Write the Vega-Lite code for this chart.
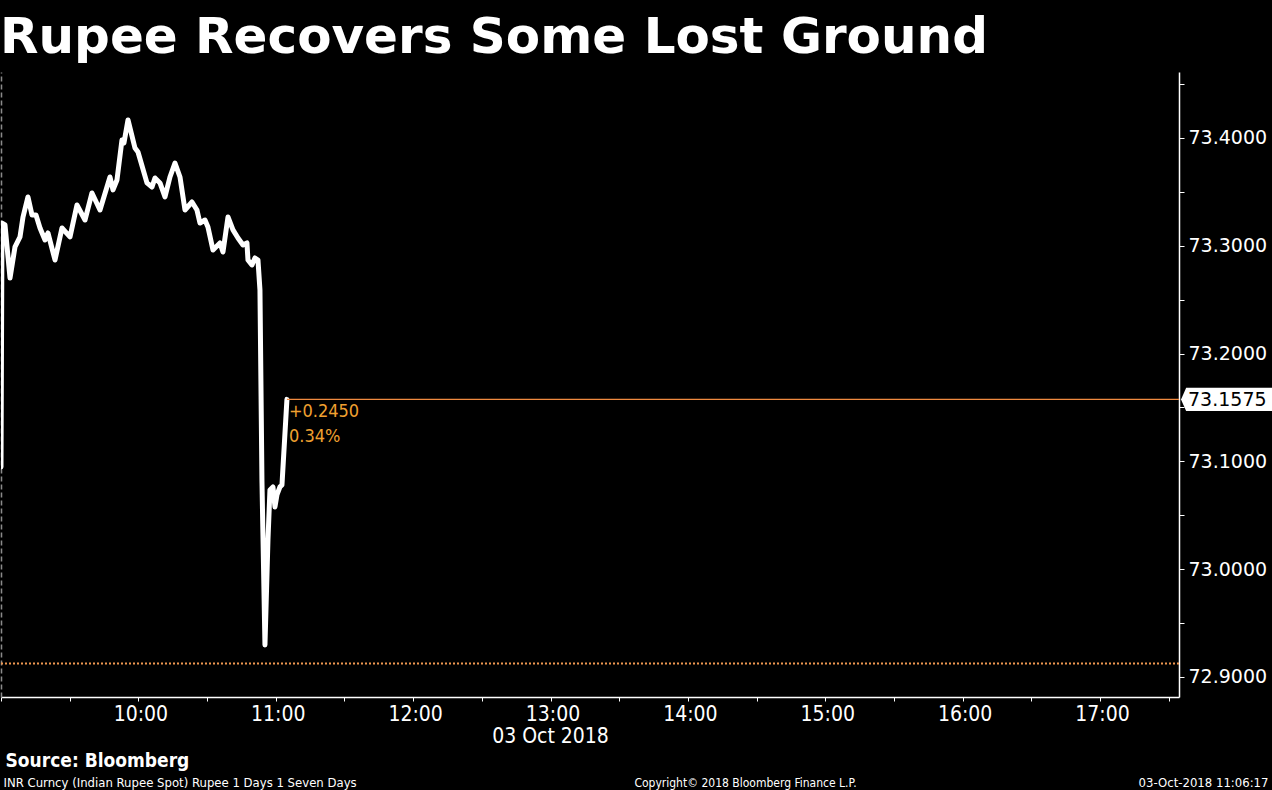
{
  "$schema": "https://vega.github.io/schema/vega-lite/v6.json",
  "background": "#000000",
  "width": 1178,
  "height": 625,
  "padding": {"left": 1, "top": 72, "right": 93, "bottom": 93},
  "autosize": {"type": "none"},
  "title": {
    "text": "Rupee Recovers Some Lost Ground",
    "anchor": "start",
    "font": "DejaVu Sans",
    "fontSize": 50,
    "fontWeight": "bold",
    "color": "#ffffff",
    "offset": 9
  },
  "config": {"view": {"stroke": null}, "axis": {"grid": false}},
  "resolve": {"axis": {"x": "independent", "y": "independent"}},
  "layer": [
    {
      "data": {
        "values": [
          {"t": "2018-10-03T09:00:00Z", "v": 73.0948},
          {"t": "2018-10-03T09:00:26Z", "v": 73.3211},
          {"t": "2018-10-03T09:01:45Z", "v": 73.3193},
          {"t": "2018-10-03T09:03:56Z", "v": 73.2701},
          {"t": "2018-10-03T09:06:07Z", "v": 73.2989},
          {"t": "2018-10-03T09:08:18Z", "v": 73.3082},
          {"t": "2018-10-03T09:09:37Z", "v": 73.3267},
          {"t": "2018-10-03T09:11:47Z", "v": 73.3453},
          {"t": "2018-10-03T09:13:32Z", "v": 73.3286},
          {"t": "2018-10-03T09:15:17Z", "v": 73.3286},
          {"t": "2018-10-03T09:17:02Z", "v": 73.3165},
          {"t": "2018-10-03T09:19:13Z", "v": 73.3054},
          {"t": "2018-10-03T09:20:31Z", "v": 73.3119},
          {"t": "2018-10-03T09:23:35Z", "v": 73.2868},
          {"t": "2018-10-03T09:26:38Z", "v": 73.3165},
          {"t": "2018-10-03T09:30:08Z", "v": 73.3082},
          {"t": "2018-10-03T09:33:11Z", "v": 73.3378},
          {"t": "2018-10-03T09:36:41Z", "v": 73.3239},
          {"t": "2018-10-03T09:39:44Z", "v": 73.349},
          {"t": "2018-10-03T09:43:14Z", "v": 73.3332},
          {"t": "2018-10-03T09:44:33Z", "v": 73.3425},
          {"t": "2018-10-03T09:47:36Z", "v": 73.3638},
          {"t": "2018-10-03T09:48:55Z", "v": 73.3518},
          {"t": "2018-10-03T09:50:39Z", "v": 73.361},
          {"t": "2018-10-03T09:52:50Z", "v": 73.3981},
          {"t": "2018-10-03T09:53:43Z", "v": 73.3954},
          {"t": "2018-10-03T09:55:28Z", "v": 73.4167},
          {"t": "2018-10-03T09:58:31Z", "v": 73.3907},
          {"t": "2018-10-03T09:59:50Z", "v": 73.387},
          {"t": "2018-10-03T10:03:45Z", "v": 73.3583},
          {"t": "2018-10-03T10:05:57Z", "v": 73.3545},
          {"t": "2018-10-03T10:07:15Z", "v": 73.3629},
          {"t": "2018-10-03T10:09:26Z", "v": 73.3583},
          {"t": "2018-10-03T10:11:37Z", "v": 73.3453},
          {"t": "2018-10-03T10:13:48Z", "v": 73.3638},
          {"t": "2018-10-03T10:15:59Z", "v": 73.3768},
          {"t": "2018-10-03T10:18:10Z", "v": 73.3638},
          {"t": "2018-10-03T10:20:21Z", "v": 73.3332},
          {"t": "2018-10-03T10:23:25Z", "v": 73.3406},
          {"t": "2018-10-03T10:25:35Z", "v": 73.3332},
          {"t": "2018-10-03T10:26:54Z", "v": 73.3211},
          {"t": "2018-10-03T10:29:05Z", "v": 73.3239},
          {"t": "2018-10-03T10:30:23Z", "v": 73.3174},
          {"t": "2018-10-03T10:32:35Z", "v": 73.2961},
          {"t": "2018-10-03T10:35:38Z", "v": 73.3026},
          {"t": "2018-10-03T10:36:57Z", "v": 73.2942},
          {"t": "2018-10-03T10:39:08Z", "v": 73.3267},
          {"t": "2018-10-03T10:41:19Z", "v": 73.3147},
          {"t": "2018-10-03T10:43:30Z", "v": 73.3072},
          {"t": "2018-10-03T10:45:41Z", "v": 73.3007},
          {"t": "2018-10-03T10:47:25Z", "v": 73.3026},
          {"t": "2018-10-03T10:47:52Z", "v": 73.2868},
          {"t": "2018-10-03T10:49:36Z", "v": 73.2822},
          {"t": "2018-10-03T10:50:55Z", "v": 73.2887},
          {"t": "2018-10-03T10:52:14Z", "v": 73.2868},
          {"t": "2018-10-03T10:53:06Z", "v": 73.259},
          {"t": "2018-10-03T10:53:58Z", "v": 73.0827},
          {"t": "2018-10-03T10:55:17Z", "v": 72.9297},
          {"t": "2018-10-03T10:56:36Z", "v": 73.0271},
          {"t": "2018-10-03T10:57:28Z", "v": 73.0735},
          {"t": "2018-10-03T10:58:47Z", "v": 73.0763},
          {"t": "2018-10-03T10:59:39Z", "v": 73.0577},
          {"t": "2018-10-03T11:00:31Z", "v": 73.0688},
          {"t": "2018-10-03T11:01:50Z", "v": 73.0763},
          {"t": "2018-10-03T11:02:43Z", "v": 73.0781},
          {"t": "2018-10-03T11:04:53Z", "v": 73.1575}
        ]
      },
      "mark": {"type": "line", "color": "#ffffff", "strokeWidth": 5, "strokeJoin": "round", "strokeCap": "round", "clip": true},
      "encoding": {
        "x": {
          "field": "t",
          "type": "temporal",
          "scale": {"type": "utc", "domain": [1538557200000, 1538588070000]},
          "axis": {
            "orient": "bottom",
            "values": [1538557200000, 1538559000000, 1538560800000, 1538562600000, 1538564400000, 1538566200000, 1538568000000, 1538569800000, 1538571600000, 1538573400000, 1538575200000, 1538577000000, 1538578800000, 1538580600000, 1538582400000, 1538584200000, 1538586000000, 1538587800000],
            "labelExpr": "utcminutes(datum.value) == 0 && utchours(datum.value) > 9 ? utcFormat(datum.value, '%H:%M') : ''",
            "labelFont": "DejaVu Sans Condensed",
            "labelFontSize": 21,
            "labelColor": "#ffffff",
            "labelPadding": 2,
            "labelOffset": 2,
            "labelFlush": false,
            "labelOverlap": false,
            "tickColor": "#ffffff",
            "tickSize": 4,
            "domainColor": "#ffffff",
            "domainWidth": 1.5,
            "title": "03 Oct 2018",
            "titleFont": "DejaVu Sans Condensed",
            "titleFontSize": 21,
            "titleFontWeight": "normal",
            "titleColor": "#ffffff",
            "titleX": 549,
            "titleY": 45,
            "titleAlign": "center",
            "titleBaseline": "alphabetic"
          }
        },
        "y": {
          "field": "v",
          "type": "quantitative",
          "scale": {"domain": [72.8814, 73.4612], "zero": false, "nice": false},
          "axis": {
            "orient": "right",
            "values": [72.9, 72.95, 73.0, 73.05, 73.1, 73.15, 73.2, 73.25, 73.3, 73.35, 73.4, 73.45],
            "labelExpr": "abs(datum.value * 10 - round(datum.value * 10)) < 0.001 ? format(datum.value, '.4f') : ''",
            "labelFont": "DejaVu Sans",
            "labelFontSize": 19,
            "labelColor": "#ffffff",
            "labelPadding": 4,
            "labelOverlap": false,
            "tickColor": "#ffffff",
            "tickSize": 5,
            "domainColor": "#ffffff",
            "domainWidth": 1.5,
            "title": "03-Oct-2018 11:06:17",
            "titleAngle": 0,
            "titleX": 89,
            "titleY": 714,
            "titleAlign": "right",
            "titleBaseline": "alphabetic",
            "titleFont": "DejaVu Sans Condensed",
            "titleFontSize": 13,
            "titleFontWeight": "normal",
            "titleColor": "#ffffff"
          }
        }
      }
    },
    {
      "data": {"values": [{}]},
      "mark": {"type": "rule", "color": "#f09850", "strokeWidth": 2, "strokeDash": [2, 2]},
      "encoding": {
        "y": {
          "datum": 72.9125,
          "type": "quantitative",
          "scale": {"domain": [72.8814, 73.4612], "zero": false, "nice": false},
          "axis": {
            "orient": "left",
            "labels": false,
            "ticks": false,
            "domainColor": "#8a8a8a",
            "domainDash": [5, 3],
            "domainWidth": 1.5,
            "title": "INR Curncy (Indian Rupee Spot) Rupee 1 Days 1 Seven Days",
            "titleLimit": 0,
            "titleAngle": 0,
            "titleX": 2,
            "titleY": 714,
            "titleAlign": "left",
            "titleBaseline": "alphabetic",
            "titleFont": "DejaVu Sans Condensed",
            "titleFontSize": 13,
            "titleFontWeight": "normal",
            "titleColor": "#ffffff"
          }
        }
      }
    },
    {
      "data": {"values": [{}]},
      "mark": {"type": "rule", "color": "#f08a40", "strokeWidth": 1.3},
      "encoding": {
        "x": {
          "datum": 1538564693000,
          "type": "temporal",
          "scale": {"type": "utc", "domain": [1538557200000, 1538588070000]},
          "axis": {
            "orient": "top",
            "values": [1538557200000],
            "labelExpr": "'Source: Bloomberg'",
            "labelAlign": "left",
            "labelBaseline": "alphabetic",
            "labelPadding": -694,
            "labelOffset": 4,
            "labelLimit": 0,
            "labelFont": "DejaVu Sans Condensed",
            "labelFontSize": 19,
            "labelFontWeight": "bold",
            "labelColor": "#ffffff",
            "labelFlush": false,
            "labelOverlap": false,
            "ticks": false,
            "domain": false,
            "title": "Copyright© 2018 Bloomberg Finance L.P.",
            "titleLimit": 0,
            "titleX": 744,
            "titleY": 714,
            "titleAlign": "center",
            "titleBaseline": "alphabetic",
            "titleFont": "DejaVu Sans Condensed",
            "titleFontSize": 12,
            "titleFontWeight": "normal",
            "titleColor": "#ffffff"
          }
        },
        "x2": {"datum": 1538588070000},
        "y": {"datum": 73.1575, "type": "quantitative", "axis": null}
      }
    },
    {
      "data": {"values": [{}]},
      "mark": {"type": "text", "text": "+0.2450", "align": "left", "baseline": "middle", "dx": 2, "dy": 13, "font": "DejaVu Sans Condensed", "fontSize": 18, "color": "#f0a030"},
      "encoding": {
        "x": {"datum": 1538564693000, "type": "temporal", "axis": null},
        "y": {"datum": 73.1575, "type": "quantitative", "axis": null}
      }
    },
    {
      "data": {"values": [{}]},
      "mark": {"type": "text", "text": "0.34%", "align": "left", "baseline": "middle", "dx": 2, "dy": 38, "font": "DejaVu Sans Condensed", "fontSize": 18, "color": "#f0a030"},
      "encoding": {
        "x": {"datum": 1538564693000, "type": "temporal", "axis": null},
        "y": {"datum": 73.1575, "type": "quantitative", "axis": null}
      }
    },
    {
      "data": {"values": [{}]},
      "mark": {"type": "point", "shape": "M-1,0L-0.89,-0.245L1,-0.245L1,0.245L-0.89,0.245Z", "filled": true, "color": "#ffffff", "opacity": 1, "size": 8836, "xOffset": 49, "strokeWidth": 0},
      "encoding": {
        "x": {"datum": 1538588070000, "type": "temporal", "axis": null},
        "y": {"datum": 73.1575, "type": "quantitative", "axis": null}
      }
    },
    {
      "data": {"values": [{}]},
      "mark": {"type": "text", "text": "73.1575", "align": "left", "baseline": "middle", "dx": 9, "dy": 1, "font": "DejaVu Sans", "fontSize": 19, "color": "#000000"},
      "encoding": {
        "x": {"datum": 1538588070000, "type": "temporal", "axis": null},
        "y": {"datum": 73.1575, "type": "quantitative", "axis": null}
      }
    }
  ]
}
